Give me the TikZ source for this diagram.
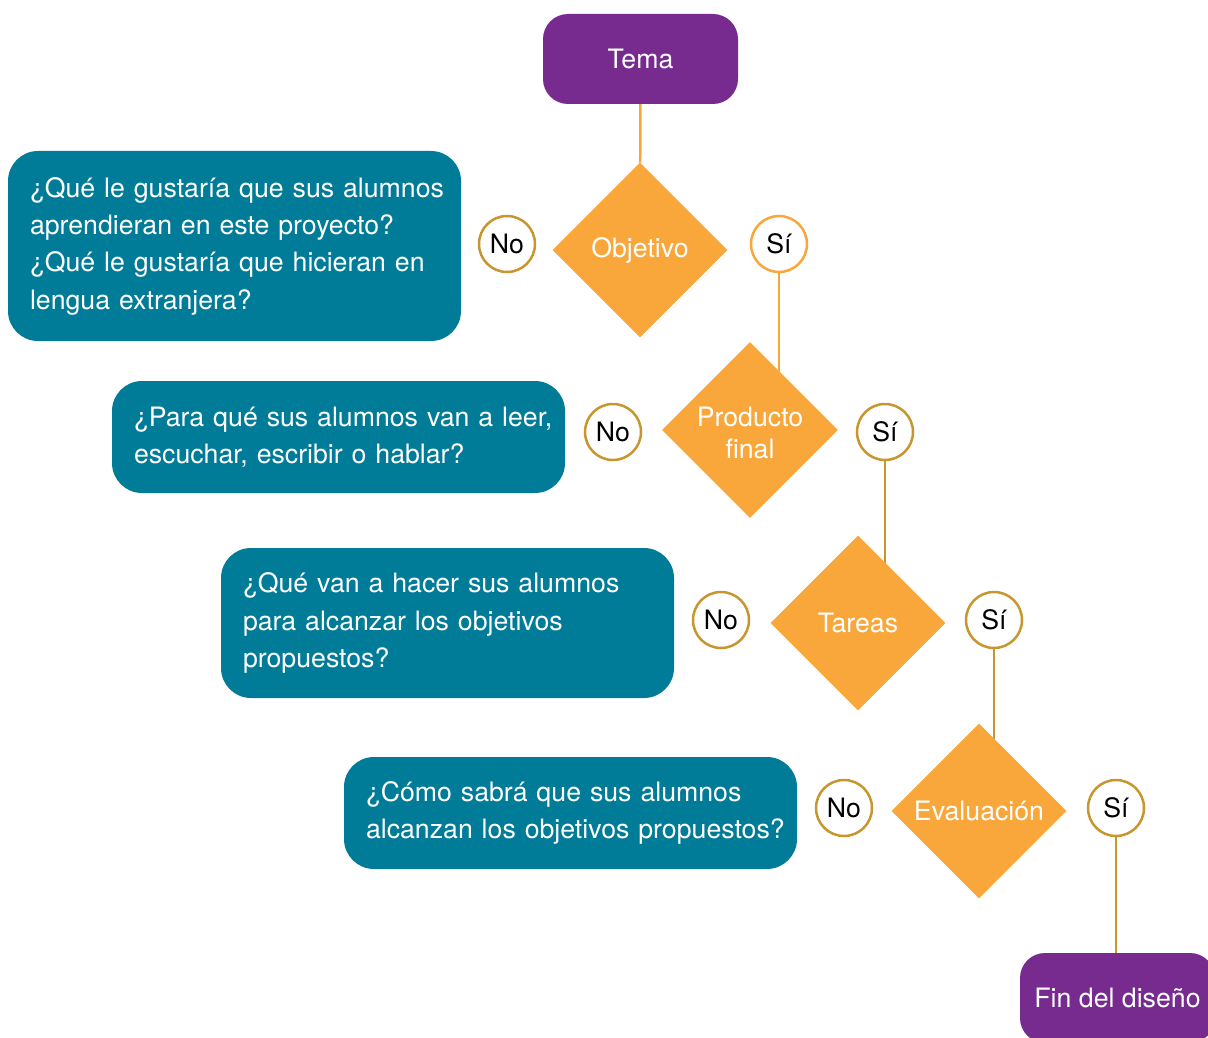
\documentclass[tikz,border=0pt]{standalone}
\usepackage{fontspec}
\setmainfont{TeX Gyre Heros}
\usetikzlibrary{shapes.geometric}
\usetikzlibrary{backgrounds}
\definecolor{temapurple}{HTML}{772B8E}
\definecolor{boxteal}{HTML}{007C98}
\definecolor{steporange}{HTML}{F9A73A}
\definecolor{ringgold}{HTML}{C8962F}
\tikzset{
    endbox/.style={rounded corners=25pt, fill=temapurple, text=white, minimum width=195pt, minimum height=90pt},
    questionbox/.style={rounded corners=30pt, fill=boxteal, text=white, text width=409pt, inner xsep=22pt, inner ysep=0pt, minimum height=#1, align=left},
    stepdiamond/.style={diamond, fill=steporange, text=white, minimum size=175pt, inner sep=0pt, align=center},
    answer/.style={circle, draw=#1, line width=2.5pt, fill=white, minimum size=56pt, inner sep=0pt},
    link/.style={draw=#1, line width=2.5pt}
}
\newcommand{\drawstep}[6]{
    \node[stepdiamond] (#1) at (#2) {#3};
    \node[answer=ringgold] (#1-no) at (#5) {No};
    \node[answer=#4] (#1-si) at (#6) {Sí};
}

\begin{document}
\begin{tikzpicture}[x=1pt, y=-1pt, font=\fontsize{26.7}{37.3}\selectfont]
    \useasboundingbox (0,0) rectangle (1208,1038);
    % start
    \node[endbox] (tema) at (640.5, 59) {Tema};
    % decisions
    \drawstep{objetivo}{640, 250}{Objetivo}{steporange}{507, 244}{779, 244}
    \drawstep{producto}{750, 430}{\raisebox{-5pt}[\height][\depth]{\begin{tabular}{@{}c@{}}Producto\\[-5pt]final\end{tabular}}}{ringgold}{613, 432}{885, 432}
    \drawstep{tareas}{858, 623}{Tareas}{ringgold}{721, 620}{994, 620}
    \drawstep{evaluacion}{979, 811}{Evaluación}{ringgold}{844, 808}{1116, 808}
    % questions
    \node[questionbox=190pt] (q1) at (234.5, 246) {\mbox{¿Qué le gustaría que sus alumnos}\\aprendieran en este proyecto?\\¿Qué le gustaría que hicieran en\\lengua extranjera?};
    \node[questionbox=112pt] (q2) at (338.5, 437) {\mbox{¿Para qué sus alumnos van a leer,}\\escuchar, escribir o hablar?};
    \node[questionbox=150pt] (q3) at (447.5, 623) {¿Qué van a hacer sus alumnos\\para alcanzar los objetivos\\propuestos?};
    \node[questionbox=112pt] (q4) at (570.5, 813) {¿Cómo sabrá que sus alumnos\\\mbox{alcanzan los objetivos propuestos?}};
    % end
    \node[endbox] (fin) at (1117.5, 998) {Fin del diseño};
    % links
    \begin{scope}[on background layer]
        \draw[link=steporange] (tema) -- (objetivo);
        \draw[link=steporange] (objetivo-si) -- (objetivo-si |- producto);
        \draw[link=ringgold] (producto-si) -- (producto-si |- tareas);
        \draw[link=ringgold] (tareas-si) -- (tareas-si |- evaluacion);
        \draw[link=ringgold] (evaluacion-si) -- (evaluacion-si |- fin);
    \end{scope}
\end{tikzpicture}
\end{document}
